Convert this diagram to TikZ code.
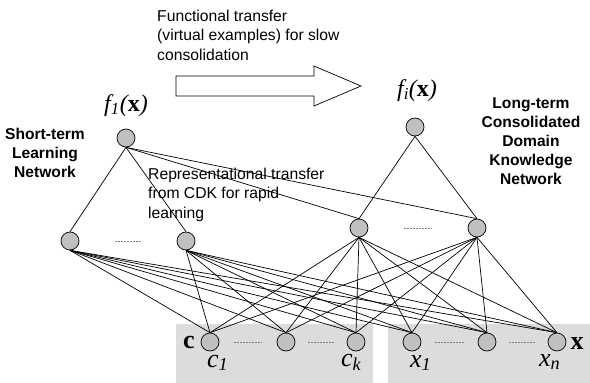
\documentclass[tikz,border=0pt]{standalone}
\usepackage{fontspec}
\setmainfont{Liberation Sans}
\newfontfamily\tms{Liberation Serif}
\usetikzlibrary{calc}
\definecolor{nodegray}{HTML}{C0C0C0}
\definecolor{boxgray}{HTML}{DCDCDC}

\begin{document}
\begin{tikzpicture}[x=1pt, y=-1pt]
\tikzstyle{neuron} = [circle, draw=black, fill=nodegray, minimum size=18pt, inner sep=0pt, line width=0.7pt]
\tikzstyle{lnk} = [line width=0.7pt]
\tikzstyle{skipmark} = [draw=gray, line width=0.6pt, dash pattern=on 2pt off 1pt]
\tikzstyle{remark} = [inner sep=0pt, align=left, font=\fontsize{15.7}{19.3}\selectfont]
\tikzstyle{netname} = [inner sep=0pt, align=center, font=\fontsize{15.6}{19}\selectfont\bfseries]
\tikzstyle{flbl} = [inner sep=0pt, font=\fontsize{24}{24}\tms]
\tikzstyle{inlbl} = [inner sep=0pt, font=\fontsize{26}{26}\tms]

\useasboundingbox (0,0) rectangle (590,383);

% input blocks
\fill[boxgray] (176,324) rectangle (373,383);
\fill[boxgray] (388,324) rectangle (590,383);

% transfer arrow
\draw[line width=0.7pt] (176,76) -- (314,76) -- (314,66) -- (361,86) -- (314,106) -- (314,96) -- (176,96) -- cycle;

\node (f1) [neuron] at (126,138) {};
\node (fi) [neuron] at (415,127) {};
\node (s1) [neuron] at (70,241) {};
\node (s2) [neuron] at (186,241) {};
\node (l1) [neuron] at (359,228) {};
\node (l2) [neuron] at (477,228) {};
\node (c1) [neuron] at (210,342) {};
\node (c2) [neuron] at (286,342) {};
\node (ck) [neuron] at (356,342) {};
\node (x1) [neuron] at (412,342) {};
\node (x2) [neuron] at (487,342) {};
\node (xn) [neuron] at (557,342) {};

% connections
\foreach \h in {s1,s2,l1,l2}
  \foreach \i in {c1,c2,ck,x1,x2,xn}
    \draw[lnk] (\h.south) -- (\i.north);
\foreach \h in {s1,s2,l1,l2}
  \draw[lnk] (f1.south) -- (\h.north);
\foreach \h in {l1,l2}
  \draw[lnk] (fi.south) -- (\h.north);

% elided units
\draw[skipmark] ($(s1)!0.39!(s2)$) -- ($(s1)!0.62!(s2)$);
\draw[skipmark] ($(l1)!0.38!(l2)$) -- ($(l1)!0.61!(l2)$);
\foreach \a/\b in {c1/c2, c2/ck, x1/x2, x2/xn}
  \draw[skipmark] ($(\a)!0.31!(\b)$) -- ($(\a)!0.69!(\b)$);

% labels
\node (f1lbl) [flbl, anchor=base] at (126,111) {\itshape f\textsubscript{1}(\textbf{\upshape x})};
\node (filbl) [flbl, anchor=base] at (417,96) {\itshape f\textsubscript{i}(\textbf{\upshape x})};
\node (clbl) [inlbl, anchor=base] at (189,348) {\bfseries c};
\node (c1lbl) [inlbl, anchor=base west] at (207,367) {\itshape c\textsubscript{1}};
\node (cklbl) [inlbl, anchor=base west] at (341,366) {\itshape c\textsubscript{k}};
\node (x1lbl) [inlbl, anchor=base west] at (410,367) {\itshape x\textsubscript{1}};
\node (xnlbl) [inlbl, anchor=base west] at (539,366) {\itshape x\textsubscript{n}};
\node (xlbl) [inlbl, anchor=base] at (577,349) {\bfseries x};

\node (fnote) [remark, anchor=north west] at (157,10) {Functional transfer\\(virtual examples) for slow\\consolidation};
\node (rnote) [remark, anchor=north west] at (148,168) {Representational transfer\\from CDK for rapid\\learning};
\node (stl) [netname, anchor=north] at (45,128) {Short-term\\Learning\\Network};
\node (ltc) [netname, anchor=north] at (531,98) {Long-term\\Consolidated\\Domain\\Knowledge\\Network};

\end{tikzpicture}
\end{document}
